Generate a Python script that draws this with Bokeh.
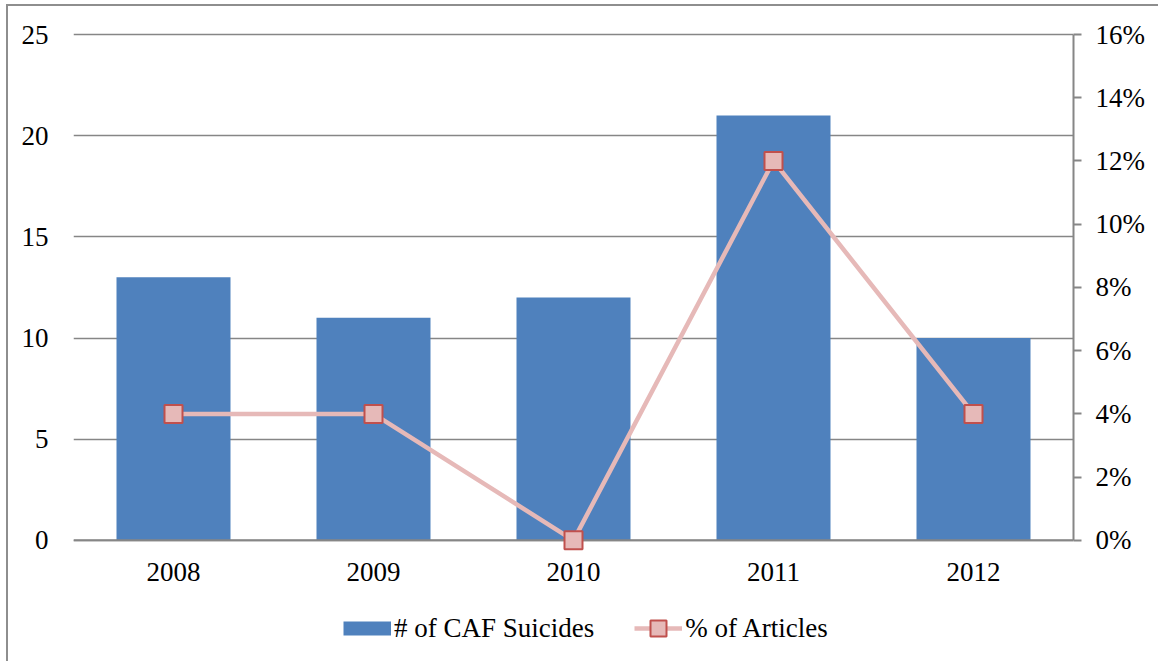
from bokeh.plotting import figure
from bokeh.layouts import column
from bokeh.models import (Range1d, LinearAxis, SingleIntervalTicker, NumeralTickFormatter,
                          Legend, LegendItem, FactorRange, Span, ColumnDataSource)
from bokeh.embed import file_html
from bokeh.resources import INLINE

# Data
years = ["2008", "2009", "2010", "2011", "2012"]
suicides = [13, 11, 12, 21, 10]
pct_articles = [0.04, 0.04, 0.00, 0.12, 0.04]
series_names = ["# of CAF Suicides", "% of Articles"]

FONT = "Liberation Serif"
FS = "27px"
GRID = "#868686"
BAR = "#4F81BD"
LINE = "#E6B9B8"
MARK_EDGE = "#C0504D"
EDGE = "2px solid #8e8e8e"

# Small headroom around 0..25 so the zero-line markers are not clipped
Y0, Y1 = -0.7, 25.1
PCT_PER_UNIT = 0.16 / 25

p = figure(
    x_range=FactorRange(*years, range_padding=0),
    y_range=Range1d(Y0, Y1),
    width=1152, height=600,
    output_backend="svg", toolbar_location=None,
    min_border_left=65, min_border_right=87, min_border_top=26, min_border_bottom=52,
    background_fill_color="white", border_fill_color="white",
)
p.styles = {"margin-left": "6px", "margin-top": "4px", "border-left": EDGE, "border-top": EDGE}
p.outline_line_color = None
p.extra_y_ranges = {"pct": Range1d(Y0 * PCT_PER_UNIT, Y1 * PCT_PER_UNIT)}

# Bars
p.vbar(x=years, top=suicides, width=0.57, color=BAR, line_color=None)

# Category axis baseline at zero
p.add_layout(Span(location=0, dimension="width", line_color=GRID, line_width=2))

# Line with square markers on the secondary axis
p.line(x=years, y=pct_articles, y_range_name="pct", line_color=LINE, line_width=4.5,
       level="overlay")
p.scatter(x=years, y=pct_articles, y_range_name="pct", marker="square", size=18,
          fill_color=LINE, line_color=MARK_EDGE, line_width=2, level="overlay")

# Grid
p.xgrid.grid_line_color = None
p.ygrid.grid_line_color = GRID
p.ygrid.grid_line_width = 1.5

# Left axis
ya = p.yaxis[0]
ya.ticker = SingleIntervalTicker(interval=5)
ya.axis_line_color = None
ya.major_tick_line_color = None
ya.minor_tick_line_color = None
ya.major_label_standoff = 19
ya.major_label_text_font = FONT
ya.major_label_text_font_size = FS
ya.major_label_text_color = "black"

# Bottom axis (labels only)
xa = p.xaxis[0]
xa.axis_line_color = None
xa.major_tick_line_color = None
xa.minor_tick_line_color = None
xa.major_label_standoff = 2
xa.major_label_text_font = FONT
xa.major_label_text_font_size = FS
xa.major_label_text_color = "black"

# Right axis
ra = LinearAxis(y_range_name="pct", ticker=SingleIntervalTicker(interval=0.02),
                formatter=NumeralTickFormatter(format="0%"), bounds=(0, 0.16))
ra.axis_line_color = GRID
ra.axis_line_width = 2
ra.major_tick_line_color = GRID
ra.major_tick_line_width = 2
ra.major_tick_in = 0
ra.major_tick_out = 8
ra.minor_tick_line_color = None
ra.major_label_standoff = 14
ra.major_label_text_font = FONT
ra.major_label_text_font_size = FS
ra.major_label_text_color = "black"
p.add_layout(ra, "right")

# Legend strip underneath the chart (key glyphs sit outside its visible range)
leg = figure(
    width=1152, height=57, x_range=Range1d(0, 1), y_range=Range1d(0, 1),
    x_axis_type=None, y_axis_type=None,
    output_backend="svg", toolbar_location=None,
    min_border_left=0, min_border_right=0, min_border_top=0, min_border_bottom=0,
    background_fill_color="white", border_fill_color="white",
)
leg.styles = {"margin-left": "6px", "border-left": EDGE}
leg.outline_line_color = None
leg.grid.grid_line_color = None

key_src = ColumnDataSource(data=dict(x=[5.0], y=[5.0]))
key_bar = leg.line("x", "y", source=key_src, line_color=BAR, line_width=14)
key_line = leg.line("x", "y", source=key_src, line_color=LINE, line_width=4.5)
key_mark = leg.scatter("x", "y", source=key_src, marker="square", fill_color=LINE,
                       line_color=MARK_EDGE, line_width=2)

legend = Legend(
    items=[LegendItem(label=series_names[0], renderers=[key_bar]),
           LegendItem(label=series_names[1], renderers=[key_line, key_mark])],
    orientation="horizontal", location=(270, 13),
    glyph_width=48, glyph_height=40, label_standoff=3, spacing=40,
    padding=0, margin=0, border_line_color=None, background_fill_alpha=0,
    label_text_font=FONT, label_text_font_size=FS, label_text_color="black",
)
leg.add_layout(legend, "center")

layout = column(p, leg, spacing=0)
open("out.html", "w").write(file_html(layout, INLINE))
